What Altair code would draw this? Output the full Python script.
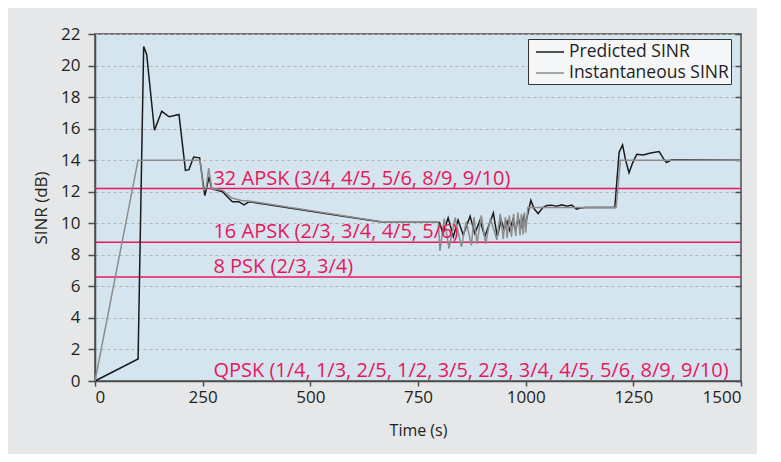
import altair as alt
import pandas as pd

# Predicted SINR (black)
pred_t = [0, 100, 113, 120, 138, 155, 172, 195, 210, 218, 229, 243, 255, 265, 271, 296, 319, 334, 346, 358, 569, 662,
          795, 800, 808, 820, 832, 843, 855, 871, 882, 894, 905, 925, 934, 943, 950, 957, 963, 970, 976, 983, 989, 995,
          1000, 1012, 1020, 1029, 1040, 1049, 1060, 1072, 1084, 1096, 1107, 1118, 1126, 1140, 1207, 1217, 1225, 1232,
          1240, 1248, 1258, 1273, 1290, 1310, 1320, 1327, 1339, 1358, 1500]
pred_v = [0, 1.4, 21.2, 20.7, 15.9, 17.1, 16.75, 16.9, 13.35, 13.4, 14.2, 14.15, 11.75, 12.95, 12.2, 12.0, 11.37, 11.37,
          11.16, 11.37, 10.48, 10.1,
          10.1, 10.05, 9.35, 10.35, 9.15, 10.2, 9.25, 10.45, 9.35, 10.2, 9.15, 10.65, 9.15, 10.2, 9.6, 10.1, 9.55, 10.2,
          9.6, 10.3, 9.7, 10.4,
          10.0, 11.45, 10.9, 10.62, 11.0, 11.12, 11.15, 11.08, 11.17, 11.08, 11.15, 10.9, 10.97, 11.0, 11.0, 14.5, 14.97,
          14.0, 13.2, 13.8, 14.38, 14.33, 14.45, 14.55, 14.1, 13.85, 14.02, 14.02, 14.0]

# Instantaneous SINR (gray)
inst_t = [0, 100, 244, 252, 258, 264, 271, 296, 318, 340, 360, 662, 797, 801, 811, 822, 836, 851, 862, 874, 880, 887,
          897, 907, 918, 933, 941, 948, 953, 957, 962, 967, 972, 977, 982, 987, 990, 994, 997, 1000, 1005, 1210, 1220,
          1500]
inst_v = [0, 14.0, 14.0, 12.1, 12.2, 13.5, 12.2, 12.1, 11.6, 11.45, 11.4, 10.12, 10.1, 8.25, 10.3, 8.4, 10.35, 8.5,
          10.1, 8.6, 10.4, 8.7, 10.5, 8.7, 10.3, 8.95, 10.6, 9.0, 10.4, 9.05, 10.5, 9.15, 10.6, 9.2, 10.7, 9.25, 10.6,
          9.3, 10.7, 9.4, 11.0, 11.0, 14.0, 14.0]

# Modulation thresholds
thr_values = [12.2, 8.8, 6.6]
lbl_values = [12.2, 8.8, 6.6, 0]
lbl_text = ["32 APSK (3/4, 4/5, 5/6, 8/9, 9/10)",
            "16 APSK (2/3, 3/4, 4/5, 5/6)",
            "8 PSK (2/3, 3/4)",
            "QPSK (1/4, 1/3, 2/5, 1/2, 3/5, 2/3, 3/4, 4/5, 5/6, 8/9, 9/10)"]
lbl_x = [275, 275, 275, 275]

series = ["Predicted SINR", "Instantaneous SINR"]
colors = ["#1a1a1a", "#8c8c8c"]

pred_df = pd.DataFrame({"t": pred_t, "v": pred_v, "s": series[0]})
inst_df = pd.DataFrame({"t": inst_t, "v": inst_v, "s": series[1]})
thr_df = pd.DataFrame({"v": thr_values})
lbl_df = pd.DataFrame({"t": lbl_x, "v": lbl_values, "label": lbl_text})

FONT = "Open Sans"
TXT = "#231f20"
AX = "#4d4d4d"
RED = "#e8175d"

xsc = alt.Scale(domain=[0, 1500], nice=False)
ysc = alt.Scale(domain=[0, 22], nice=False)

xax = alt.Axis(values=list(range(0, 1501, 250)), format="d", grid=False, title="Time (s)", tickSize=5,
               tickColor=AX, tickWidth=1.5, domainColor=AX, domainWidth=1.5, labelFontSize=17, labelColor=TXT,
               labelPadding=3, titleFontSize=16, titleFontWeight="normal", titleColor=TXT, titlePadding=17,
               labelFont=FONT, titleFont=FONT)
yax = alt.Axis(values=list(range(0, 23, 2)), grid=True, gridColor="#b5b5b5", gridDash=[3, 3], gridWidth=1,
               title="SINR (dB)", tickSize=7, tickColor=AX, tickWidth=1.5, domainColor=AX, domainWidth=1.5,
               labelFontSize=17, labelColor=TXT, labelPadding=8, titleFontSize=17, titleFontWeight="normal",
               titleColor=TXT, titlePadding=10, labelFont=FONT, titleFont=FONT)
yax_right = alt.Axis(orient="right", values=list(range(0, 23, 2)), labels=False, grid=False, domain=False,
                     title=None, tickSize=6, tickColor=AX, tickWidth=1.5, offset=-6)

color = alt.Color("s:N", scale=alt.Scale(domain=series, range=colors),
                  legend=alt.Legend(title=None, orient="none", legendX=433, legendY=5, fillColor="#f4f6f7",
                                    strokeColor="#333333", padding=2, symbolType="M-1.4,0H1.4", symbolSize=400,
                                    symbolOffset=9, symbolStrokeWidth=1.5, labelFontSize=17.5, labelFont=FONT,
                                    labelColor=TXT, labelLimit=300, rowPadding=1, labelOffset=8))

rules = alt.Chart(thr_df).mark_rule(color=RED, strokeWidth=1.5).encode(
    y=alt.Y("v:Q", scale=ysc, axis=yax),
)
right_ticks = alt.Chart(thr_df).mark_rule(opacity=0).encode(
    y=alt.Y("v:Q", scale=ysc, axis=yax_right),
)
pred = alt.Chart(pred_df).mark_line(strokeWidth=1.5).encode(
    x=alt.X("t:Q", scale=xsc, axis=xax),
    y=alt.Y("v:Q", scale=ysc, axis=None),
    color=color,
)
inst = alt.Chart(inst_df).mark_line(strokeWidth=1.5).encode(
    x=alt.X("t:Q", scale=xsc, axis=xax),
    y=alt.Y("v:Q", scale=ysc, axis=None),
    color=color,
)
labels = alt.Chart(lbl_df).mark_text(align="left", baseline="alphabetic", dy=-4, fontSize=20, font=FONT,
                                     color=RED).encode(
    x=alt.X("t:Q", scale=xsc, axis=xax),
    y=alt.Y("v:Q", scale=ysc, axis=None),
    text="label:N",
)

chart = alt.layer(rules, right_ticks, pred, inst, labels).resolve_axis(y="independent").properties(
    width=646, height=347, background="#e6e7e8",
    padding={"left": 87, "top": 26, "right": 16, "bottom": 73},
    autosize=alt.AutoSizeParams(type="none"),
).configure_view(fill="#d5e5ef", stroke=AX, strokeWidth=1.5)

chart.save("out.html", embed_options={"renderer": "svg", "actions": False})
